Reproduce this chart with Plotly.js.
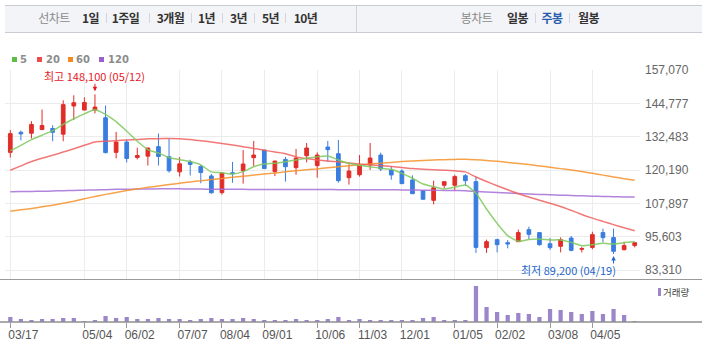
<!DOCTYPE html>
<html><head><meta charset="utf-8">
<script src="https://cdn.plot.ly/plotly-3.0.1.min.js"></script>
<style>
body{margin:0;background:#fff;}
#wrap{position:relative;width:702px;height:352px;overflow:hidden;font-family:"Noto Sans CJK KR","Noto Sans",sans-serif;}
#chart{position:absolute;left:0;top:0;width:702px;height:352px;}
.ov{position:absolute;pointer-events:none;white-space:nowrap;}
#tabbar{left:5px;top:5px;width:697px;height:26px;background:#f3f4f7;border-top:1px solid #c8cbd2;border-bottom:1px solid #c8cbd2;}
.tab{position:absolute;top:18px;transform:translate(-50%,-50%);font-size:12px;font-weight:bold;color:#333;letter-spacing:-0.6px;line-height:14px;}
.tab.lbl{font-weight:normal;color:#8a8a8a;}
.tab.sel{color:#2a5db0;}
.sep{position:absolute;top:13px;width:1px;height:10px;background:#d3d5da;}
.div{position:absolute;top:6px;width:1px;height:26px;background:#cfd2d8;}
.lg{position:absolute;top:60px;transform:translateY(-50%);font-size:10px;font-weight:bold;color:#8c8c8c;font-family:"DejaVu Sans",sans-serif;line-height:12px;}
.sq{position:absolute;top:57px;width:5px;height:5px;}
</style></head>
<body>
<div id="wrap">
<div id="chart"></div>
<div class="ov" id="tabbar"></div>
<div class="ov" id="tabs" style="left:0;top:0;width:702px;height:40px;"></div>
<div class="ov" id="legend" style="left:0;top:0;width:702px;height:70px;"></div>
<div class="ov" id="vlegend" style="left:0;top:0;width:702px;height:352px;"></div>
</div>
<script>
// ---- data ----
const weeks = ["2014-03-17","2014-03-24","2014-03-31","2014-04-07","2014-04-14","2014-04-21","2014-04-28","2014-05-05","2014-05-12","2014-05-19",
"2014-05-26","2014-06-02","2014-06-09","2014-06-16","2014-06-23","2014-06-30","2014-07-07","2014-07-14","2014-07-21","2014-07-28",
"2014-08-04","2014-08-11","2014-08-18","2014-08-25","2014-09-01","2014-09-08","2014-09-15","2014-09-22","2014-09-29","2014-10-06",
"2014-10-13","2014-10-20","2014-10-27","2014-11-03","2014-11-10","2014-11-17","2014-11-24","2014-12-01","2014-12-08","2014-12-15",
"2014-12-22","2014-12-29","2015-01-05","2015-01-12","2015-01-19","2015-01-26","2015-02-02","2015-02-09","2015-02-16","2015-02-23",
"2015-03-02","2015-03-09","2015-03-16","2015-03-23","2015-03-30","2015-04-06","2015-04-13","2015-04-20","2015-04-27","2015-05-04"];
const openP  = [126700,134100,133750,135100,135500,133400,143800,142300,142300,139450,
126700,130500,124800,125300,128800,125100,119500,123200,121500,118000,
111850,119200,119950,124750,127550,119600,124100,121050,125450,121800,
128650,126200,117350,118450,122050,125700,120200,119800,116500,112550,
109000,114550,114550,118100,115900,91550,94500,93400,93750,98200,
97100,93000,92050,95100,90950,91650,97100,95250,90800,92300];
const highP  = [134900,134700,138200,142500,136700,145900,147750,147000,148100,144000,
134250,131400,128400,128300,133600,131750,124950,123950,122100,118750,
119200,123150,127550,130900,127600,123550,125000,127950,130150,126700,
130900,131250,122300,125700,130150,126600,121650,120450,118200,112600,
116250,115900,118450,118700,117750,94500,94850,94350,98200,99300,
97100,95100,95350,95850,91900,97450,98550,98550,93750,93400];
const lowP   = [124800,131100,131800,134900,130800,130800,138600,142300,141050,126300,
124450,122950,124100,121850,121850,119250,117750,118150,115300,111450,
111100,115500,115150,121650,120650,117950,115900,118450,123000,117350,
123250,115500,114800,117750,120200,119800,116600,115150,111450,109350,
107500,113450,112450,114300,89600,89600,89800,91300,93750,94600,
92300,90700,89800,90200,89800,90950,93500,89200,90550,91650];
const closeP = [133600,133500,137000,136600,134100,144300,145000,145100,143400,126600,
130500,124450,125550,128300,125200,119900,122450,122250,119250,111800,
119100,118850,122400,125700,120700,123500,121400,124600,128300,125700,
127700,116250,119800,121900,124600,120550,118350,115150,111450,109400,
113650,115900,117750,116250,91650,93750,92650,92900,97100,96450,
92650,91550,94500,90550,91200,96350,95250,90200,92300,93400];
const ma5   = [127300,129300,131400,133000,134700,137000,139100,140900,142400,140700,
138000,134500,130800,127700,126400,124800,124000,123300,122100,119500,
119200,118700,119600,121400,122400,122650,123250,123900,124500,125100,
125350,123900,122650,121900,121400,120800,120450,118950,117150,115000,
114050,113200,113800,114650,111600,105800,100500,96000,93900,94600,
94750,94400,94400,93500,92300,92650,93150,92900,93400,93750];
const ma20  = [120100,121700,123300,124500,125600,126800,128000,129300,130500,130800,
131000,131250,131450,131700,131750,131800,131750,131400,131000,130500,
130000,129400,128800,128100,127500,126800,126200,125000,124400,123900,
123500,123200,122800,122400,122100,121800,121500,121150,120700,120500,
120300,120100,119900,119500,117600,115950,114400,112900,111450,110200,
109000,107950,106750,105300,103800,102450,101250,100050,98900,97800];
const ma60  = [105000,105500,106000,106600,107200,107900,108700,109600,110400,111200,
111900,112600,113200,113800,114300,114800,115300,115800,116200,116700,
117100,117500,117900,118300,118700,119100,119500,119900,120300,120600,
121000,121400,121800,122100,122400,122700,123000,123300,123500,123700,
123900,124000,124100,124200,124000,123700,123400,123000,122600,122200,
121700,121200,120700,120200,119600,119000,118300,117600,117000,116400];
const ma120 = [112200,112250,112300,112350,112450,112550,112650,112750,112850,112950,
113050,113100,113150,113200,113250,113250,113250,113200,113150,113100,
113100,113050,113050,113000,113000,113000,113000,113000,113000,113000,
113000,112950,112950,112950,112900,112900,112900,112850,112800,112750,
112700,112650,112600,112550,112300,112100,111900,111700,111500,111350,
111200,111050,110900,110800,110650,110550,110450,110350,110250,110200];
const volume = [250000,150000,100000,150000,150000,200000,200000,50000,100000,300000,
200000,250000,150000,150000,200000,150000,150000,100000,150000,200000,
150000,150000,200000,150000,100000,100000,100000,150000,100000,100000,
150000,250000,100000,150000,100000,100000,100000,100000,100000,200000,
250000,100000,100000,100000,1800000,750000,500000,350000,450000,400000,
250000,650000,600000,500000,400000,550000,400000,650000,350000,50000];
const tickWeeks  = ["2014-03-17","2014-05-05","2014-06-02","2014-07-07","2014-08-04","2014-09-01","2014-10-06","2014-11-03","2014-12-01","2015-01-05","2015-02-02","2015-03-09","2015-04-06"];
const tickLabels = ["03/17","05/04","06/02","07/07","08/04","09/01","10/06","11/03","12/01","01/05","02/02","03/08","04/05"];
const priceTicks = [83310,95603,107897,120190,132483,144777,157070];
const priceTickLabels = ["83,310","95,603","107,897","120,190","132,483","144,777","157,070"];
const maxPoint = {week:"2014-05-12", value:148100, text:"최고 148,100 (05/12)"};
const minPoint = {week:"2015-04-20", value:89200, text:"최저 89,200 (04/19)"};
const maNames = ["5","20","60","120"];
const lineTabs = ["1일","1주일","3개월","1년","3년","5년","10년"];
const candleTabs = ["일봉","주봉","월봉"];

// ---- styles ----
const RED = "#e12d28", BLUE = "#3a7de0";
const maColors = ["#7cc95c","#f06060","#f5922a","#a56fd8"];
const legendColors = ["#5cbf44","#ee4b4b","#f5891f","#9b5fcf"];
const VOLC = "#9b86c9";
const ff = "Liberation Sans, Arial, sans-serif";
const kf = "Noto Sans CJK KR, sans-serif";

const maSeries = [ma5, ma20, ma60, ma120];
const traces = [];
[3,2,1,0].forEach(k => {
  traces.push({type:"scatter", mode:"lines", x:weeks, y:maSeries[k], xaxis:"x", yaxis:"y",
    line:{color:maColors[k], width:1.5, shape:"spline", smoothing:0.6}, opacity:0.85, hoverinfo:"skip", showlegend:false});
});
traces.push({type:"candlestick", x:weeks, open:openP, high:highP, low:lowP, close:closeP, xaxis:"x", yaxis:"y",
  increasing:{line:{color:RED,width:1}, fillcolor:RED},
  decreasing:{line:{color:BLUE,width:1}, fillcolor:BLUE},
  whiskerwidth:0, showlegend:false});
traces.push({type:"bar", x:weeks, y:volume, xaxis:"x2", yaxis:"y2", marker:{color:VOLC}, showlegend:false});

// geometry: plot area x 5..640, y 70..322
const H = 352, T = 70, B = 30, PH = H - T - B;
const py = p => (H - B - p) / PH;            // pixel row -> paper y
const px = p => (p - 5) / 635;                // pixel col -> paper x
const vmax = Math.max(...volume);

const layout = {
  width:702, height:352, margin:{l:5, r:62, t:T, b:B}, paper_bgcolor:"#fff", plot_bgcolor:"#fff",
  showlegend:false, boxgap:0.5, bargap:0.6, dragmode:false,
  xaxis:{type:"category", range:[-0.5, weeks.length-0.5], tickvals:tickWeeks, showticklabels:false, ticks:"",
    showgrid:true, gridcolor:"#ececec", gridwidth:1, zeroline:false, showline:false, anchor:"y",
    rangeslider:{visible:false}, fixedrange:true},
  yaxis:{domain:[py(279),1], range:[157070 - 209*368.8, 157070], side:"right", tickvals:priceTicks, ticktext:priceTickLabels,
    showgrid:true, gridcolor:"#ececec", zeroline:false, showline:false, ticks:"", ticklabelstandoff:4,
    tickfont:{family:ff, size:12, color:"#666"}, fixedrange:true},
  xaxis2:{type:"category", range:[-0.5, weeks.length-0.5], tickvals:tickWeeks, ticktext:tickLabels, anchor:"y2",
    ticks:"outside", ticklen:5, tickcolor:"#999", tickwidth:1, showgrid:false, zeroline:false, showline:false,
    ticklabelshift:13, ticklabelstandoff:-3, tickfont:{family:ff, size:12, color:"#555"}, fixedrange:true},
  yaxis2:{domain:[0, py(280)], range:[0, vmax*42/36], showticklabels:false, showgrid:false, zeroline:false, ticks:"", fixedrange:true},
  shapes:[
    {type:"line", xref:"paper", yref:"paper", x0:px(0), x1:px(702), y0:py(279.5), y1:py(279.5), line:{color:"#9a9a9a", width:1}},
    {type:"line", xref:"paper", yref:"paper", x0:px(0), x1:px(702), y0:py(322), y1:py(322), line:{color:"#8f8f8f", width:1.5}}
  ],
  annotations:[
    {x:maxPoint.week, y:maxPoint.value, xref:"x", yref:"y", text:maxPoint.text, showarrow:false, yshift:18,
      font:{family:kf, size:11, color:"#e5161e"}},
    {x:maxPoint.week, y:maxPoint.value, xref:"x", yref:"y", text:"", showarrow:true, ax:0, ay:-12, standoff:3,
      arrowhead:2, arrowsize:0.9, arrowwidth:1, arrowcolor:"#e5161e"},
    {x:minPoint.week, y:minPoint.value, xref:"x", yref:"y", text:minPoint.text, showarrow:false, xshift:-45, yshift:-16,
      font:{family:kf, size:11, color:"#2466c9"}},
    {x:minPoint.week, y:minPoint.value, xref:"x", yref:"y", text:"", showarrow:true, ax:0, ay:11, standoff:2,
      arrowhead:2, arrowsize:0.9, arrowwidth:1, arrowcolor:"#2466c9"}
  ]
};
Plotly.newPlot("chart", traces, layout, {displayModeBar:false, staticPlot:true});

// ---- tab bar ----
const tabs = document.getElementById("tabs");
function addTab(text, cx, cls){ const s=document.createElement("span"); s.className="tab "+(cls||""); s.style.left=cx+"px"; s.textContent=text; tabs.appendChild(s); }
function addSep(x, cls){ const s=document.createElement("div"); s.className=cls||"sep"; s.style.left=x+"px"; tabs.appendChild(s); }
addTab("선차트", 54, "lbl");
const lineCx = [90.5,125.5,170.5,206.5,238.5,270.5,305.5];
lineTabs.forEach((t,i)=>addTab(t, lineCx[i]));
[106,149,191,222,254,285].forEach(x=>addSep(x));
addSep(356,"div");
addTab("봉차트", 476.5, "lbl");
const candleCx = [517.5,552,588.5];
candleTabs.forEach((t,i)=>addTab(t, candleCx[i], i===1?"sel":""));
[535,569].forEach(x=>addSep(x));

// ---- MA legend ----
const lg = document.getElementById("legend");
const sqX = [12,37,68,99], txX = [20,46,76,108];
maNames.forEach((n,i)=>{
  const q=document.createElement("div"); q.className="sq"; q.style.left=sqX[i]+"px"; q.style.background=legendColors[i]; lg.appendChild(q);
  const t=document.createElement("span"); t.className="lg"; t.style.left=txX[i]+"px"; t.textContent=n; lg.appendChild(t);
});
// ---- volume legend ----
const vl = document.getElementById("vlegend");
vl.innerHTML = '<div style="position:absolute;left:658px;top:288px;width:3px;height:8px;background:'+VOLC+'"></div>'+
  '<span style="position:absolute;left:663px;top:292px;transform:translateY(-50%);font-size:9.5px;color:#444;font-family:'+kf+';line-height:11px">거래량</span>';
</script>
</body></html>
